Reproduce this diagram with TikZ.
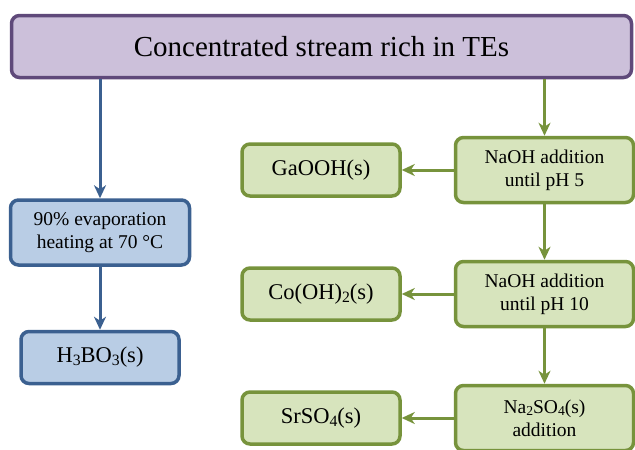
\documentclass[tikz,border=0pt]{standalone}
\usepackage{fontspec}
\setmainfont{Liberation Serif}
\usetikzlibrary{arrows.meta,positioning}

\definecolor{topfill}{HTML}{CCC0DA}
\definecolor{topdraw}{HTML}{5F497A}
\definecolor{evapfill}{HTML}{B9CDE5}
\definecolor{evapdraw}{HTML}{3B6090}
\definecolor{precfill}{HTML}{D7E4BD}
\definecolor{precdraw}{HTML}{77933C}

\newcommand{\chemsub}[1]{\raisebox{-0.12em}{\fontsize{0.7em}{1em}\selectfont #1}}

\begin{document}
\begin{tikzpicture}[x=1pt,y=1pt,node distance=56pt,
                    >={Stealth[length=13pt,width=12pt,inset=4pt]}]
	  \tikzstyle{box}=[rectangle,rounded corners=8pt,line width=3.5pt,inner sep=0pt,align=center,text=black]
	  \tikzstyle{feed}=[box,fill=topfill,draw=topdraw,minimum width=620pt,minimum height=62pt,font=\fontsize{29}{32}\selectfont]
	  \tikzstyle{evap}=[box,fill=evapfill,draw=evapdraw]
	  \tikzstyle{prec}=[box,fill=precfill,draw=precdraw]
	  \tikzstyle{step2}=[minimum width=178pt,minimum height=65pt,font=\fontsize{19.5}{23}\selectfont]
	  \tikzstyle{solid1}=[minimum width=158pt,minimum height=52pt,font=\fontsize{22.5}{25}\selectfont]
	  \tikzstyle{blueline}=[->,line width=3pt,draw=evapdraw]
	  \tikzstyle{greenline}=[->,line width=3pt,draw=precdraw]

	  \useasboundingbox (0,0) rectangle (635,-450);

	  \node[feed]             (feed)  at (321.5,-46.5)  {Concentrated stream rich in TEs};

	  \node[evap,step2,minimum width=179pt] (evap) at (100,-232.5) {90\% evaporation\\heating at 70 °C};
	  \node[evap,solid1] (boric) [below=63pt of evap] {H\chemsub{3}BO\chemsub{3}(s)};

	  \node[prec,step2]       (ph5)   at (544.5,-170)   {NaOH addition\\until pH 5};
	  \node[prec,step2]       (ph10)  [below of=ph5,yshift=-68pt]   {NaOH addition\\until pH 10};
	  \node[prec,step2]       (sulf)  [below of=ph10,yshift=-68pt]  {Na\chemsub{2}SO\chemsub{4}(s)\\addition};

	  \node[prec,solid1]      (ga)    [left=52pt of ph5]  {GaOOH(s)};
	  \node[prec,solid1]      (co)    [left=52pt of ph10] {Co(OH)\chemsub{2}(s)};
	  \node[prec,solid1]      (sr)    [left=52pt of sulf] {SrSO\chemsub{4}(s)};

	  \draw[blueline] (feed.south -| evap.north) -- (evap.north);
	  \draw[blueline] (evap) -- (boric);
	  \draw[greenline] (feed.south -| ph5.north) -- (ph5);
	  \draw[greenline] (ph5) -- (ph10);
	  \draw[greenline] (ph10) -- (sulf);
	  \draw[greenline] (ph5) -- (ga);
	  \draw[greenline] (ph10) -- (co);
	  \draw[greenline] (sulf) -- (sr);
	\end{tikzpicture}
\end{document}
